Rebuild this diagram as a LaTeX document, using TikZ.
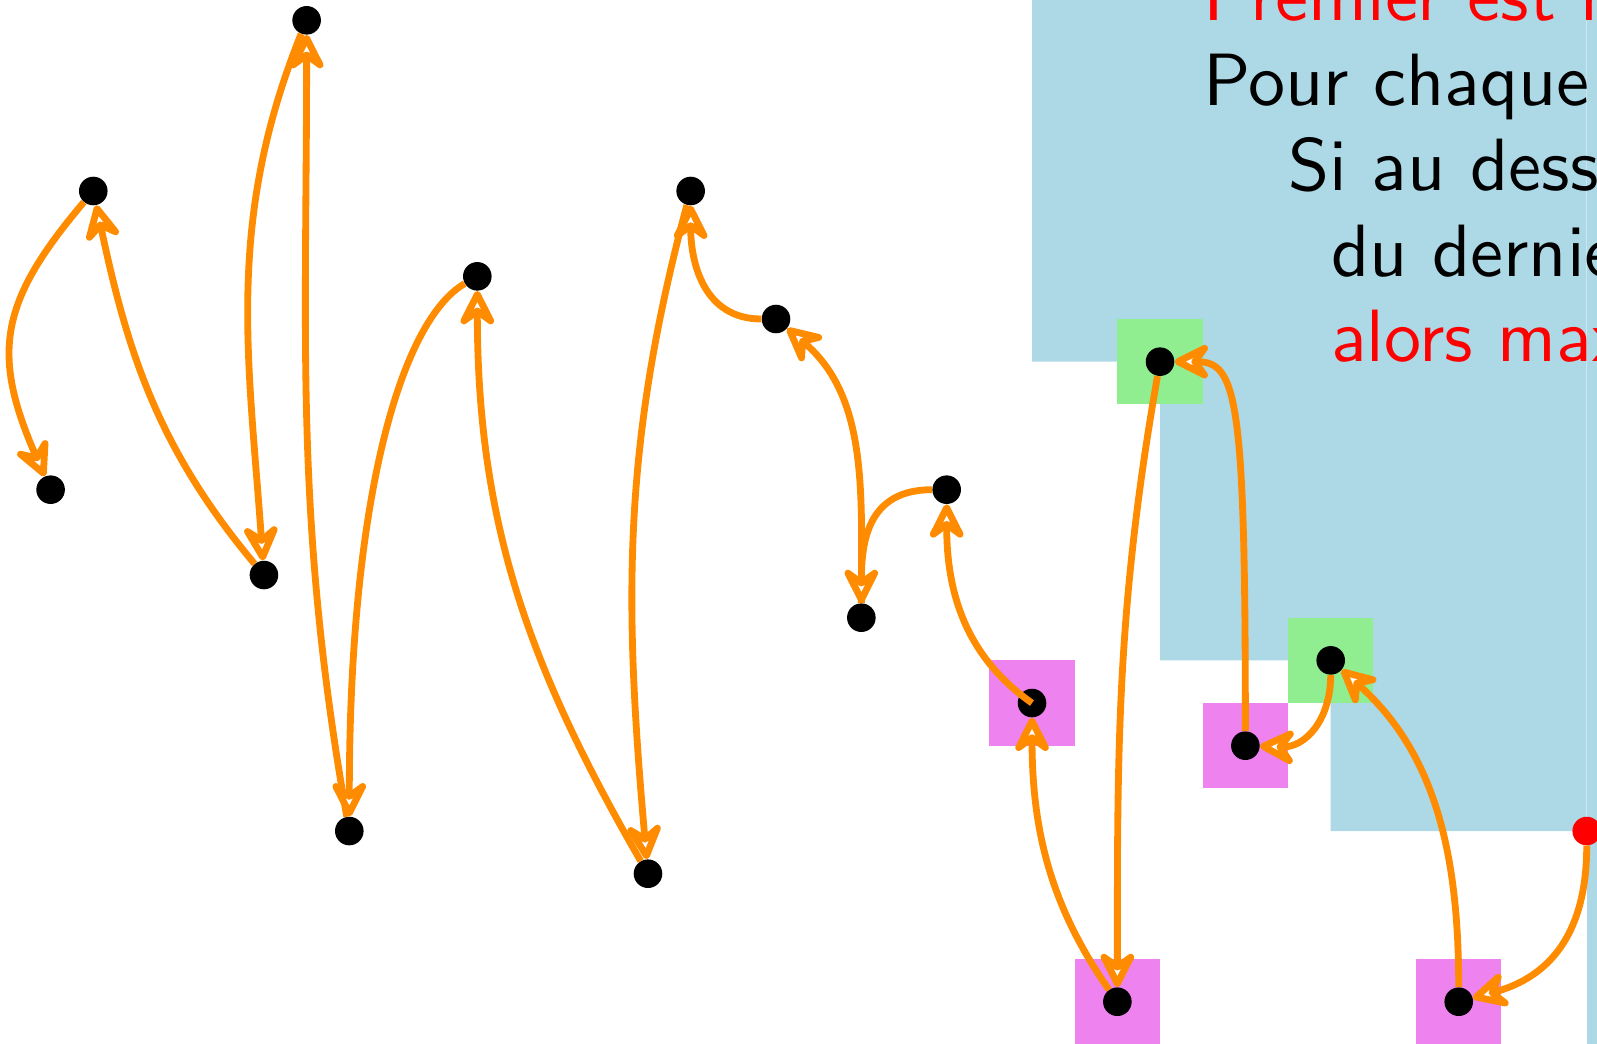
\documentclass[tikz,border=0pt]{standalone}
\usetikzlibrary{arrows.meta}
\DeclareFontFamily{TU}{lmssten}{}
\DeclareFontShape{TU}{lmssten}{m}{n}{<-> "[lmsans10-regular]:+tlig;"}{}
\definecolor{lblue}{HTML}{ADD8E6}
\definecolor{lgreen}{HTML}{90EE90}
\definecolor{violetc}{HTML}{EE82EE}
\definecolor{dorange}{HTML}{FF8C00}
\tikzset{
  dotnode/.style={circle, fill=black, inner sep=0pt, minimum size=0.67cm},
  reddot/.style={dotnode, fill=red},
  sqbox/.style={rectangle, inner sep=0pt, minimum size=2cm},
  sqg/.style={sqbox, fill=lgreen},
  sqm/.style={sqbox, fill=violetc},
  link/.style={draw=dorange, line width=0.16cm,
    -{Stealth[round, fill=white, length=1.05cm, width=1.05cm, inset=0.38cm]}},
  txt/.style={anchor=base west, inner sep=0pt,
    font=\fontfamily{lmssten}\fontsize{49.4}{59}\selectfont},
}
\begin{document}
\begin{tikzpicture}
\useasboundingbox (-0.186,0.476) rectangle (37.241,-23.968);
\clip (-0.186,0.476) rectangle (37.241,-23.968);
% staircase region
\fill[lblue] (24,1) -- (24,-8) -- (27,-8) -- (27,-15) -- (31,-15) -- (31,-19) -- (37,-19) -- (37,1) -- cycle;
\fill[lblue] (37,1) rectangle (38,-25);
% squares
\node[sqm] (Lsq) at (24,-16) {};
\node[sqm] (Msq) at (26,-23) {};
\node[sqg] (Nsq) at (27,-8) {};
\node[sqm] (Osq) at (29,-17) {};
\node[sqg] (Psq) at (31,-15) {};
\node[sqm] (Qsq) at (34,-23) {};
% text
\node[txt, text=red] (t1) at (28,0) {Premier est max};
\node[txt] (t2) at (28,-2) {Pour chaque point};
\node[txt] (t3) at (30,-4) {Si au dessus};
\node[txt] (t4) at (31,-6) {du dernier max};
\node[txt, text=red] (t5) at (31,-8) {alors max};
% points
\node[dotnode] (A) at (2,-4) {};
\node[dotnode] (B) at (1,-11) {};
\node[dotnode] (C) at (6,-13) {};
\node[dotnode] (D) at (7,0) {};
\node[dotnode] (E) at (8,-19) {};
\node[dotnode] (F) at (11,-6) {};
\node[dotnode] (G) at (15,-20) {};
\node[dotnode] (H) at (16,-4) {};
\node[dotnode] (I) at (18,-7) {};
\node[dotnode] (J) at (20,-14) {};
\node[dotnode] (K) at (22,-11) {};
\node[dotnode] (L) at (24,-16) {};
\node[dotnode] (M) at (26,-23) {};
\node[dotnode] (N) at (27,-8) {};
\node[dotnode] (O) at (29,-17) {};
\node[dotnode] (P) at (31,-15) {};
\node[dotnode] (Q) at (34,-23) {};
\node[reddot] (R) at (37,-19) {};
% links
\draw[link] (A) .. controls (-0.2,-6.6) and (-0.4,-7.8) .. (B);
\draw[link] (C) .. controls (3.52,-10.04) and (2.80,-7.78) .. (A);
\draw[link] (D) .. controls (5.09,-4.73) and (5.64,-7.91) .. (C);
\draw[link] (E) .. controls (6.71,-11.66) and (7,-7.45) .. (D);
\draw[link] (F) .. controls (9.27,-7) and (8,-11) .. (E);
\draw[link] (G) .. controls (12.15,-15.06) and (11,-11.7) .. (F);
\draw[link] (H) .. controls (14.37,-10.07) and (14.45,-13.74) .. (G);
\draw[link] (I) .. controls (16.31,-7) and (16,-5.69) .. (H);
\draw[link] (J) .. controls (20,-11.15) and (20.18,-8.83) .. (I);
\draw[link] (K) .. controls (20.17,-11) and (20,-12.17) .. (J);
\draw[link] (L.center) .. controls (22.27,-14.79) and (22,-13.11) .. (K);
\draw[link] (M) .. controls (24.37,-20.67) and (24,-18.85) .. (L);
\draw[link] (N) .. controls (25.98,-13.8) and (26,-17.11) .. (M);
\draw[link] (O) .. controls (29,-8.8) and (28.8,-8) .. (N);
\draw[link] (P) .. controls (31,-16.4) and (30.4,-17.05) .. (O);
\draw[link] (Q) .. controls (34,-19.66) and (33.5,-17.2) .. (P);
\draw[link] (R) .. controls (37,-21.3) and (36.22,-22.4) .. (Q);
\end{tikzpicture}
\end{document}
